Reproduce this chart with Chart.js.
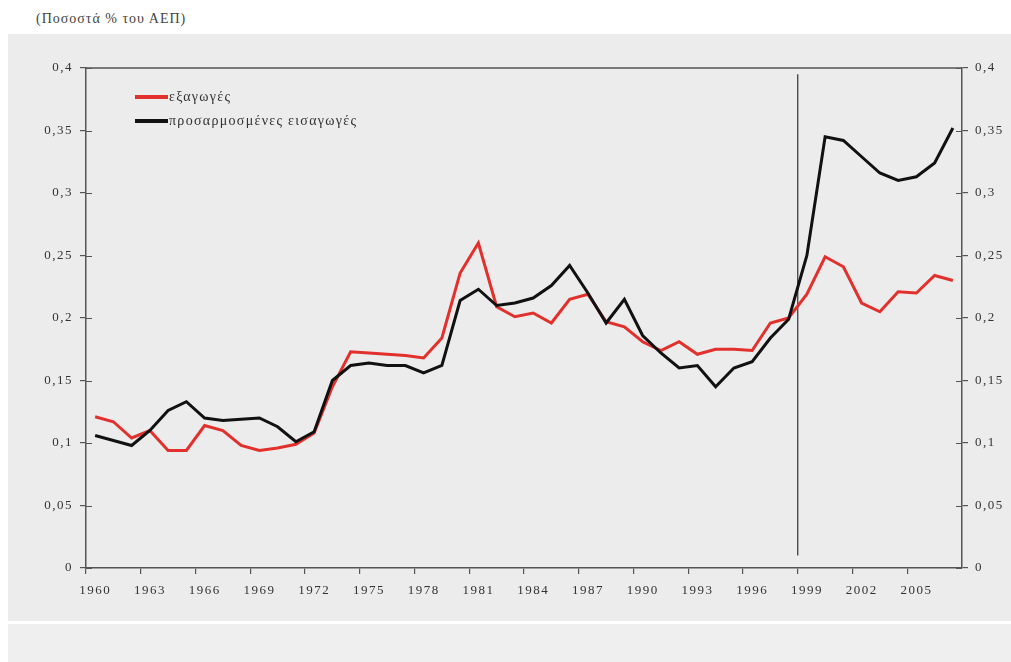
<!DOCTYPE html>
<html>
<head>
<meta charset="utf-8">
<script src="https://cdn.jsdelivr.net/npm/chart.js@4.4.1/dist/chart.umd.min.js"></script>
<style>
  body { margin: 0; width: 1011px; height: 662px; background: #fff; position: relative; overflow: hidden; font-family: "Liberation Serif", serif; }
  #title { position: absolute; left: 36px; top: 11px; font-size: 14px; letter-spacing: 1px; color: #444; }
  #panel { position: absolute; left: 8px; top: 34px; right: 0; height: 587px; background: #ececec; }
  #foot { position: absolute; left: 8px; top: 624px; right: 0; bottom: 0; background: #efefef; }
  #chart { position: absolute; left: 0; top: 0; }
</style>
</head>
<body>
<div id="title">(Ποσοστά % του ΑΕΠ)</div>
<div id="panel"></div>
<div id="foot"></div>
<canvas id="chart" width="1011" height="662"></canvas>
<script>
var years = [1960, 1961, 1962, 1963, 1964, 1965, 1966, 1967, 1968, 1969,
             1970, 1971, 1972, 1973, 1974, 1975, 1976, 1977, 1978, 1979,
             1980, 1981, 1982, 1983, 1984, 1985, 1986, 1987, 1988, 1989,
             1990, 1991, 1992, 1993, 1994, 1995, 1996, 1997, 1998, 1999,
             2000, 2001, 2002, 2003, 2004, 2005, 2006, 2007];

// εξαγωγές
var exportsShare = [0.121, 0.117, 0.104, 0.110, 0.094, 0.094, 0.114, 0.110, 0.098, 0.094,
                    0.096, 0.099, 0.108, 0.145, 0.173, 0.172, 0.171, 0.170, 0.168, 0.184,
                    0.236, 0.260, 0.209, 0.201, 0.204, 0.196, 0.215, 0.219, 0.197, 0.193,
                    0.181, 0.174, 0.181, 0.171, 0.175, 0.175, 0.174, 0.196, 0.200, 0.219,
                    0.249, 0.241, 0.212, 0.205, 0.221, 0.220, 0.234, 0.230];

// προσαρμοσμένες εισαγωγές
var importsShare = [0.106, 0.102, 0.098, 0.110, 0.126, 0.133, 0.120, 0.118, 0.119, 0.120,
                    0.113, 0.101, 0.109, 0.150, 0.162, 0.164, 0.162, 0.162, 0.156, 0.162,
                    0.214, 0.223, 0.210, 0.212, 0.216, 0.226, 0.242, 0.220, 0.196, 0.215,
                    0.186, 0.172, 0.160, 0.162, 0.145, 0.160, 0.165, 0.184, 0.199, 0.250,
                    0.345, 0.342, 0.329, 0.316, 0.310, 0.313, 0.324, 0.352];

var yTicks = [0, 0.05, 0.1, 0.15, 0.2, 0.25, 0.3, 0.35, 0.4];
var breakYear = 1999;
var breakRange = [0.01, 0.395];

var serif = '"Liberation Serif", "Times New Roman", serif';
var axisColor = '#555';

function fmt(v) {
  return Number(v.toFixed(2)).toString().replace('.', ',');
}

// the scanned original has wide lettering
var spacingPlugin = {
  id: 'spacing',
  beforeUpdate: function(chart) { chart.ctx.letterSpacing = '1.5px'; },
  beforeDraw: function(chart) { chart.ctx.letterSpacing = '1.5px'; }
};

// top border of the plot frame, inner tick halves, vertical break line
var framePlugin = {
  id: 'frame',
  beforeDatasetsDraw: function(chart) {
    var c = chart.ctx, a = chart.chartArea;
    var xs = chart.scales.x, ys = chart.scales.y;
    c.save();
    c.strokeStyle = axisColor;
    c.lineWidth = 1.5;
    c.beginPath();
    c.moveTo(a.left, a.top);
    c.lineTo(a.right, a.top);
    c.stroke();

    c.lineWidth = 1.2;
    c.beginPath();
    yTicks.forEach(function(v) {
      var py = Math.round(ys.getPixelForValue(v)) + 0.5;
      c.moveTo(a.left, py);
      c.lineTo(a.left + 6, py);
      c.moveTo(a.right, py);
      c.lineTo(a.right - 6, py);
    });
    c.stroke();

    var i = years.indexOf(breakYear);
    var bx = (xs.getPixelForValue(i - 1) + xs.getPixelForValue(i)) / 2;
    c.strokeStyle = '#333';
    c.lineWidth = 1.2;
    c.beginPath();
    c.moveTo(bx, ys.getPixelForValue(breakRange[1]));
    c.lineTo(bx, ys.getPixelForValue(breakRange[0]));
    c.stroke();
    c.restore();
  }
};

var legendPlugin = {
  id: 'inLegend',
  afterDraw: function(chart) {
    var c = chart.ctx, a = chart.chartArea;
    c.save();
    c.font = '14px ' + serif;
    c.letterSpacing = '1.3px';
    c.textBaseline = 'middle';
    chart.data.datasets.forEach(function(ds, k) {
      var y = a.top + 29 + k * 24;
      var x = a.left + 49;
      c.strokeStyle = ds.borderColor;
      c.lineWidth = 4;
      c.beginPath();
      c.moveTo(x, y);
      c.lineTo(x + 33, y);
      c.stroke();
      c.fillStyle = '#333';
      c.fillText(ds.label, x + 34, y);
    });
    c.restore();
  }
};

function yAxis(pos, w) {
  return {
    position: pos,
    min: 0,
    max: 0.4,
    afterBuildTicks: function(s) { s.ticks = yTicks.map(function(v) { return { value: v }; }); },
    afterFit: function(s) { s.width = w; },
    grid: { drawOnChartArea: false, drawTicks: true, tickLength: 6, color: axisColor, lineWidth: 1.2 },
    border: { color: axisColor, width: 1.5 },
    ticks: {
      padding: 7,
      color: '#333',
      font: { family: serif, size: 13 },
      callback: function(v) { return fmt(v); }
    }
  };
}

new Chart(document.getElementById('chart').getContext('2d'), {
  type: 'line',
  data: {
    labels: years,
    datasets: [
      {
        label: 'εξαγωγές',
        data: exportsShare,
        borderColor: '#e2302c',
        borderWidth: 3,
        pointRadius: 0,
        tension: 0,
        order: 2
      },
      {
        label: 'προσαρμοσμένες εισαγωγές',
        data: importsShare,
        borderColor: '#111111',
        borderWidth: 3,
        pointRadius: 0,
        tension: 0,
        order: 1
      }
    ]
  },
  options: {
    responsive: false,
    animation: false,
    layout: { padding: { top: 68, left: 0, right: 0, bottom: 0 } },
    plugins: { legend: { display: false }, tooltip: { enabled: false } },
    scales: {
      x: {
        type: 'category',
        offset: true,
        afterFit: function(s) { s.height = 94; },
        grid: {
          offset: true,
          drawOnChartArea: false,
          drawTicks: true,
          tickLength: 6,
          lineWidth: 1.2,
          color: function(ctx) { return ctx.index % 3 === 0 ? axisColor : 'rgba(0,0,0,0)'; }
        },
        border: { color: axisColor, width: 1.5 },
        ticks: {
          autoSkip: false,
          maxRotation: 0,
          padding: 9,
          color: '#333',
          font: { family: serif, size: 13 },
          callback: function(v, i) { return i % 3 === 0 ? String(years[i]) : ''; }
        }
      },
      y: yAxis('left', 86),
      y2: yAxis('right', 49)
    }
  },
  plugins: [spacingPlugin, framePlugin, legendPlugin]
});
</script>
</body>
</html>
